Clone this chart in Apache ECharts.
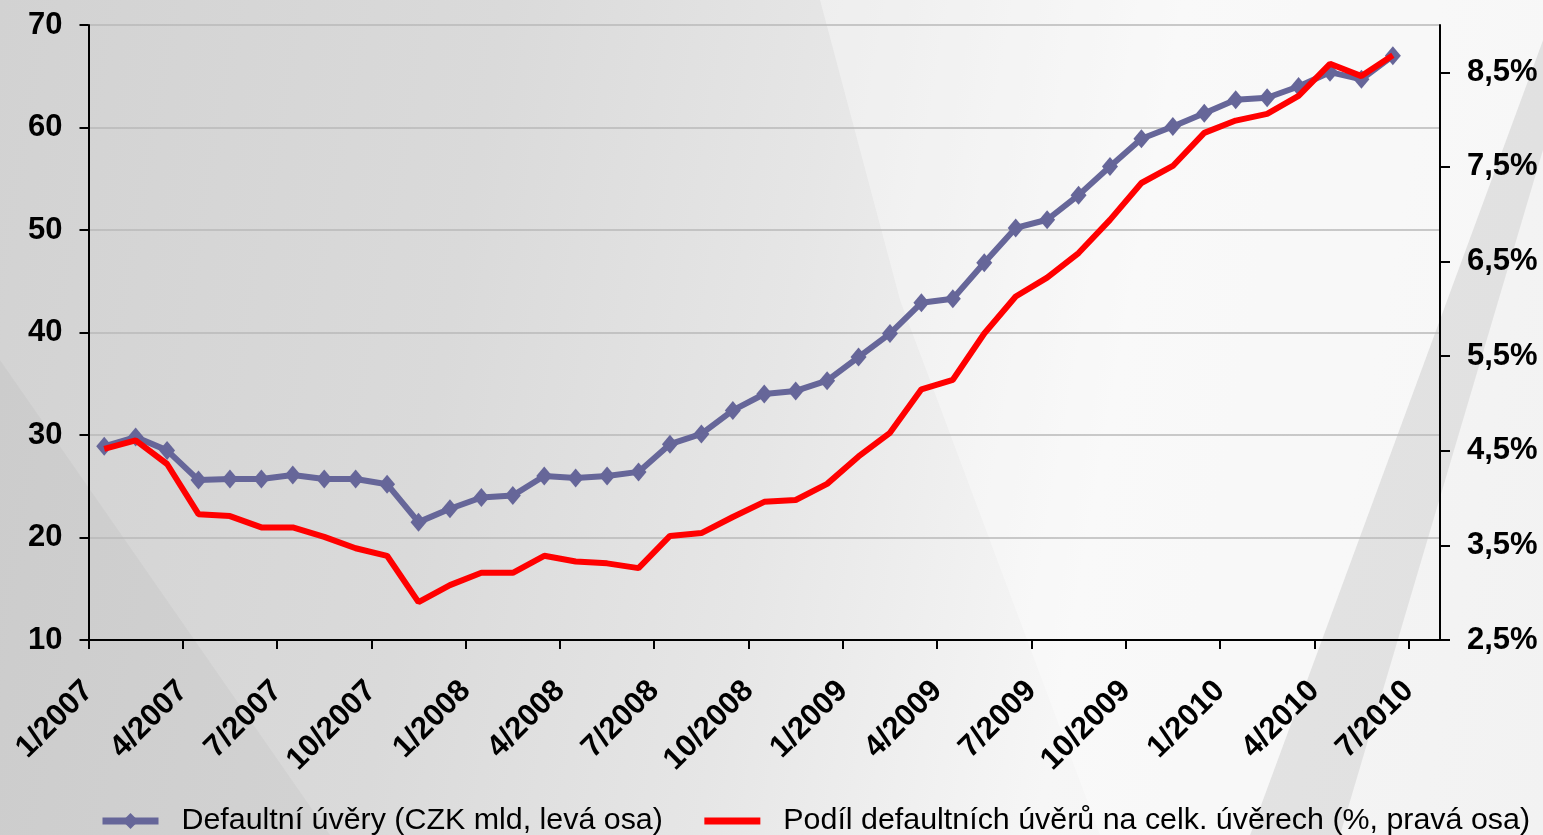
<!DOCTYPE html>
<html>
<head>
<meta charset="utf-8">
<script src="https://cdn.jsdelivr.net/npm/echarts@6/dist/echarts.min.js"></script>
<style>
  html, body { margin: 0; padding: 0; }
  body {
    width: 1543px; height: 835px; overflow: hidden;
    background: linear-gradient(100deg, #d2d2d2 0%, #dadada 30%, #e6e6e6 50%, #f6f6f6 70%, #f2f2f2 100%);
  }
  #chart { width: 1543px; height: 835px; }
</style>
</head>
<body>
<div id="chart"></div>
<script>
  // měsíce (poslední kategorie je prázdná, jen konec osy)
  const months = [
    '1/2007','2/2007','3/2007','4/2007','5/2007','6/2007','7/2007','8/2007','9/2007','10/2007','11/2007','12/2007',
    '1/2008','2/2008','3/2008','4/2008','5/2008','6/2008','7/2008','8/2008','9/2008','10/2008','11/2008','12/2008',
    '1/2009','2/2009','3/2009','4/2009','5/2009','6/2009','7/2009','8/2009','9/2009','10/2009','11/2009','12/2009',
    '1/2010','2/2010','3/2010','4/2010','5/2010','6/2010','7/2010'
  ]
  // popisky na ose x (každé čtvrtletí)
  const tickLabels = [
    '1/2007','4/2007','7/2007','10/2007','1/2008','4/2008','7/2008','10/2008',
    '1/2009','4/2009','7/2009','10/2009','1/2010','4/2010','7/2010'
  ]
  // defaultní úvěry, mld CZK (levá osa)
  const defaultLoans = [
    28.9, 29.8, 28.5, 25.6, 25.7, 25.7, 26.1, 25.7, 25.7, 25.2,
    21.5, 22.8, 23.9, 24.1, 26.0, 25.8, 26.0, 26.4, 29.1, 30.1,
    32.4, 34.0, 34.3, 35.3, 37.6, 39.9, 42.9, 43.3, 46.8, 50.2,
    51.0, 53.4, 56.2, 58.9, 60.1, 61.4, 62.7, 62.9, 64.0, 65.4,
    64.7, 67.0
  ]
  // podíl defaultních úvěrů, % (pravá osa)
  const defaultShare = [
    4.52, 4.61, 4.36, 3.83, 3.81, 3.69, 3.69, 3.59, 3.47, 3.39,
    2.90, 3.08, 3.21, 3.21, 3.39, 3.33, 3.31, 3.26, 3.60, 3.63,
    3.80, 3.96, 3.98, 4.15, 4.44, 4.69, 5.15, 5.25, 5.74, 6.13,
    6.33, 6.59, 6.94, 7.33, 7.51, 7.86, 7.99, 8.06, 8.25, 8.59,
    8.46, 8.68
  ]

  const font = "'Liberation Sans', Arial, sans-serif"
  const chart = echarts.init(document.getElementById('chart'), null, { renderer: 'canvas' })

  const option = {
    animation: false,
    textStyle: { fontFamily: font },
    // dekorace pozadí
    graphic: [
      { type: 'polygon', z: -10, silent: true,
        shape: { points: [[1543, 40], [1543, 150], [1340, 835], [1250, 835]] },
        style: { fill: 'rgba(0,0,0,0.07)' } },
      { type: 'polygon', z: -10, silent: true,
        shape: { points: [[820, 0], [1543, 0], [1543, 40], [1250, 835], [1100, 835], [900, 300]] },
        style: { fill: 'rgba(255,255,255,0.35)' } },
      { type: 'polygon', z: -10, silent: true,
        shape: { points: [[0, 360], [330, 835], [0, 835]] },
        style: { fill: 'rgba(0,0,0,0.03)' } }
    ],
    grid: { left: 88.5, right: 103, top: 25, bottom: 195 },
    legend: {
      left: 94,
      top: 801,
      itemWidth: 56,
      itemHeight: 20,
      itemGap: 38,
      lineStyle: { width: 7 },
      textStyle: { fontSize: 30.4, color: '#000', fontFamily: font, padding: [0, 0, 0, 18] },
      data: ['Defaultní úvěry (CZK mld, levá osa)', 'Podíl defaultních úvěrů na celk. úvěrech (%, pravá osa)']
    },
    xAxis: [
      {
        type: 'category',
        data: months,
        boundaryGap: true,
        show: false
      },
      {
        type: 'value',
        position: 'bottom',
        min: 0,
        max: 43,
        interval: 3,
        splitLine: { show: false },
        axisLine: { show: true, lineStyle: { color: '#000', width: 2 } },
        axisTick: { show: true, length: 9, lineStyle: { color: '#000', width: 2 } },
        axisLabel: {
          rotate: 45,
          margin: 46,
          fontSize: 31,
          fontWeight: 'bold',
          color: '#000',
          showMaxLabel: false,
          formatter: v => tickLabels[v / 3] || ''
        }
      }
    ],
    yAxis: [
      {
        type: 'value',
        min: 10,
        max: 70,
        interval: 10,
        axisLine: { show: true, lineStyle: { color: '#000', width: 2 } },
        axisTick: { show: true, length: 9, lineStyle: { color: '#000', width: 2 } },
        axisLabel: { fontSize: 31, fontWeight: 'bold', color: '#000', margin: 26 },
        splitLine: { show: true, lineStyle: { color: '#b8b8b8', width: 1.5 } }
      },
      {
        type: 'value',
        position: 'right',
        min: 2.5,
        max: 9,
        interval: 1,
        axisLine: { show: true, lineStyle: { color: '#000', width: 2 } },
        axisTick: { show: true, length: 10, lineStyle: { color: '#000', width: 2 } },
        axisLabel: {
          fontSize: 31, fontWeight: 'bold', color: '#000', margin: 27,
          showMaxLabel: false,
          formatter: v => v.toFixed(1).replace('.', ',') + '%'
        },
        splitLine: { show: false }
      }
    ],
    series: [
      {
        name: 'Defaultní úvěry (CZK mld, levá osa)',
        type: 'line',
        xAxisIndex: 0,
        yAxisIndex: 0,
        data: defaultLoans,
        symbol: 'diamond',
        symbolSize: [16, 19],
        itemStyle: { color: '#666699' },
        lineStyle: { color: '#666699', width: 6 },
        z: 2
      },
      {
        name: 'Podíl defaultních úvěrů na celk. úvěrech (%, pravá osa)',
        type: 'line',
        xAxisIndex: 0,
        yAxisIndex: 1,
        data: defaultShare,
        symbol: 'none',
        // průhledný symbol, aby v legendě zůstala jen čára
        itemStyle: { color: '#ff0000', opacity: 0 },
        lineStyle: { color: '#ff0000', width: 6, opacity: 1 },
        z: 3
      }
    ]
  }
  chart.setOption(option)
</script>
</body>
</html>
